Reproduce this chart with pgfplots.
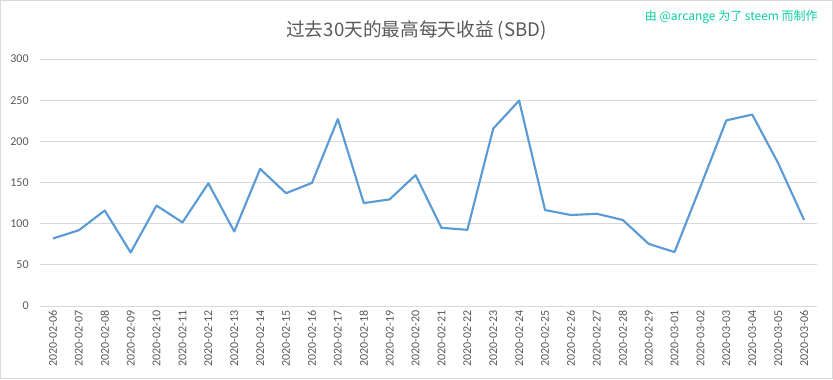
\documentclass[border=0pt]{standalone}
\usepackage{pgfplots}
\pgfplotsset{compat=1.18}
\usepackage{fontspec}
\setmainfont{Carlito}
\newfontfamily\cjk{Noto Sans CJK SC}
\definecolor{txtgray}{HTML}{595959}
\definecolor{gridgray}{HTML}{D9D9D9}
\definecolor{lineblue}{HTML}{5B9BD5}
\definecolor{wmteal}{RGB}{10,205,160}
\pgfplotstableread{
x y
0 82
1 92
2 116
3 65
4 122
5 101.5
6 149
7 90.5
8 166.5
9 137
10 149.5
11 227
12 125
13 129.5
14 159
15 95
16 92.5
17 215.5
18 249.5
19 116.5
20 110.5
21 112
22 104.5
23 75.5
24 65.5
25 145
26 225.5
27 232.5
28 173.5
29 104.5
}\datatable
\begin{document}
\begin{tikzpicture}
\useasboundingbox (0,0) rectangle (624.75pt,284.25pt);
\draw[gridgray, line width=0.75pt] (0.375pt,0.375pt) rectangle (624.375pt,283.875pt);
\begin{axis}[
  at={(30pt,54.75pt)}, anchor=south west,
  scale only axis, width=582.75pt, height=185.25pt,
  xmin=-0.5, xmax=29.5, ymin=0, ymax=300,
  ytick={0,50,...,300},
  xtick={0,...,29},
  xticklabels={2020-02-06,2020-02-07,2020-02-08,2020-02-09,2020-02-10,2020-02-11,2020-02-12,2020-02-13,2020-02-14,2020-02-15,2020-02-16,2020-02-17,2020-02-18,2020-02-19,2020-02-20,2020-02-21,2020-02-22,2020-02-23,2020-02-24,2020-02-25,2020-02-26,2020-02-27,2020-02-28,2020-02-29,2020-03-01,2020-03-02,2020-03-03,2020-03-04,2020-03-05,2020-03-06},
  axis line style={draw=none},
  major tick length=0pt,
  ymajorgrids, grid style={gridgray, line width=0.75pt},
  /pgf/number format/assume math mode=true,
  yticklabel style={font=\fontsize{9pt}{10pt}\selectfont, text=txtgray, anchor=east, xshift=-5pt},
  xticklabel style={font=\fontsize{9pt}{10pt}\selectfont, text=txtgray, rotate=90, anchor=east, yshift=0pt},
  clip=false,
]
\addplot[lineblue, line width=1.6pt, line join=round, mark=none] table[x=x,y=y] {\datatable};
\end{axis}
\node[text=txtgray, font=\cjk\fontsize{14pt}{16pt}\selectfont] at (312.4pt,261.75pt) {过去30天的最高每天收益 (SBD)};
\node[anchor=east, text=wmteal, font=\cjk\fontsize{9pt}{10pt}\selectfont, inner sep=0pt] at (613.5pt,271.5pt) {由 @arcange 为了 steem 而制作};
\end{tikzpicture}
\end{document}
